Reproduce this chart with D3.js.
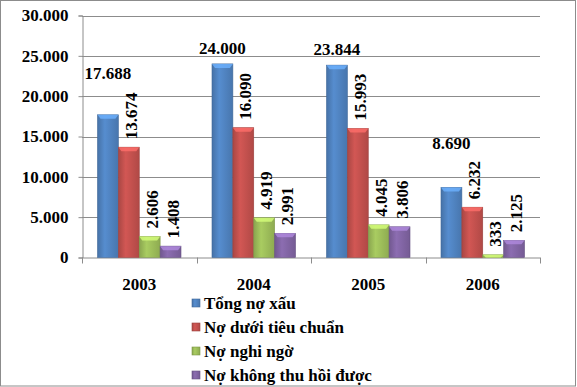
<!DOCTYPE html>
<html>
<head>
<meta charset="utf-8">
<script src="https://cdn.jsdelivr.net/npm/d3@7"></script>
<style>
  body { margin: 0; background: #fff; }
  svg { display: block; }
  text { font-family: "Liberation Serif", "Times New Roman", serif; font-weight: bold; fill: #000; }
</style>
</head>
<body>
<div id="chart"></div>
<script>
// Data
const years = ["2003", "2004", "2005", "2006"];
const seriesNames = ["Tổng nợ xấu", "Nợ dưới tiêu chuẩn", "Nợ nghi ngờ", "Nợ không thu hồi được"];
const tongNoXau = [17688, 24000, 23844, 8690];
const noDuoiTieuChuan = [13674, 16090, 15993, 6232];
const noNghiNgo = [2606, 4919, 4045, 333];
const noKhongThuHoi = [1408, 2991, 3806, 2125];
const yTicks = [0, 5000, 10000, 15000, 20000, 25000, 30000];

const seriesValues = [tongNoXau, noDuoiTieuChuan, noNghiNgo, noKhongThuHoi];
const colors = ["#4F81BD", "#C0504D", "#9BBB59", "#8064A2"];
// gap above the blue bars for the horizontal labels (placed by hand in the original)
const blueLabelGap = [42, 16, 16, 44];

const W = 577, H = 387;
const plot = {left: 82, right: 540, top: 15.5, bottom: 257.5};

const svg = d3.select("#chart").append("svg")
    .attr("width", W)
    .attr("height", H);

// outer frame
svg.append("rect")
    .attr("x", 0.5).attr("y", 0.5)
    .attr("width", W - 2).attr("height", H - 1.5)
    .attr("fill", "#fff")
    .attr("stroke", "#8c8c8c");

// gradients for the bevelled bars
const defs = svg.append("defs");
colors.forEach((c, i) => {
    const g = defs.append("linearGradient")
        .attr("id", "grad" + i)
        .attr("x1", "0").attr("x2", "1").attr("y1", "0").attr("y2", "0");
    g.append("stop").attr("offset", "0%").attr("stop-color", d3.color(c).darker(0.35));
    g.append("stop").attr("offset", "35%").attr("stop-color", d3.color(c).brighter(0.25));
    g.append("stop").attr("offset", "100%").attr("stop-color", d3.color(c).darker(0.25));
});

// scales
const x0 = d3.scaleBand()
    .domain(years)
    .range([plot.left, plot.right]);

const x1 = d3.scaleBand()
    .domain(d3.range(seriesNames.length))
    .range([15.5, x0.bandwidth() - 15.5]);

const y = d3.scaleLinear()
    .domain([0, 30000])
    .range([plot.bottom, plot.top]);

const fmt = v => d3.format(",")(v).replace(/,/g, ".");

// gridlines
svg.append("g")
    .selectAll("line")
    .data(yTicks.slice(1))
    .join("line")
    .attr("x1", plot.left).attr("x2", plot.right)
    .attr("y1", d => Math.round(y(d)) + 0.5).attr("y2", d => Math.round(y(d)) + 0.5)
    .attr("stroke", "#8c8c8c");

// y axis
const yAxis = svg.append("g")
    .attr("transform", `translate(${plot.left + 0.5},0)`)
    .call(d3.axisLeft(y).tickValues(yTicks).tickSize(4).tickPadding(10).tickFormat(fmt));
yAxis.select(".domain").attr("stroke", "#8c8c8c");
yAxis.selectAll(".tick line").attr("stroke", "#8c8c8c");
yAxis.selectAll(".tick text")
    .style("font-family", '"Liberation Serif", serif')
    .style("font-weight", "bold")
    .style("font-size", "17px")
    .attr("fill", "#000");

// x axis baseline + ticks between categories
const xg = svg.append("g");
xg.append("line")
    .attr("x1", plot.left).attr("x2", plot.right)
    .attr("y1", plot.bottom + 0.5).attr("y2", plot.bottom + 0.5)
    .attr("stroke", "#8c8c8c");
xg.selectAll(".sep")
    .data(years.concat(["end"]))
    .join("line")
    .attr("x1", (d, i) => Math.round(plot.left + i * x0.bandwidth()) + 0.5)
    .attr("x2", (d, i) => Math.round(plot.left + i * x0.bandwidth()) + 0.5)
    .attr("y1", plot.bottom)
    .attr("y2", plot.bottom + 6)
    .attr("stroke", "#8c8c8c");
xg.selectAll(".yl")
    .data(years)
    .join("text")
    .attr("x", d => x0(d) + x0.bandwidth() / 2)
    .attr("y", 290)
    .attr("text-anchor", "middle")
    .style("font-size", "17px")
    .text(d => d);

// bars
const groups = svg.append("g")
    .selectAll("g")
    .data(years)
    .join("g")
    .attr("transform", d => `translate(${x0(d)},0)`);

groups.selectAll("rect")
    .data((d, yi) => seriesValues.map((s, si) => ({si, yi, v: s[yi]})))
    .join("rect")
    .attr("x", d => x1(d.si))
    .attr("y", d => y(d.v))
    .attr("width", x1.bandwidth())
    .attr("height", d => y(0) - y(d.v))
    .attr("fill", d => `url(#grad${d.si})`)
    .attr("stroke", d => d3.color(colors[d.si]).darker(0.6))
    .attr("stroke-width", 0.6);

// light top bevel
groups.selectAll("path.bevel")
    .data((d, yi) => seriesValues.map((s, si) => ({si, yi, v: s[yi]})))
    .join("path")
    .attr("class", "bevel")
    .attr("d", d => {
        const bx = x1(d.si), by = y(d.v), bw = x1.bandwidth();
        const h = Math.min(4, y(0) - y(d.v));
        return `M${bx},${by}L${bx + bw},${by}L${bx + bw - 3},${by + h}L${bx + 3},${by + h}Z`;
    })
    .attr("fill", d => d3.color(colors[d.si]).brighter(0.9))
    .attr("opacity", 0.8);

// value labels
groups.selectAll("text.val")
    .data((d, yi) => seriesValues.map((s, si) => ({si, yi, v: s[yi]})))
    .join("text")
    .attr("class", "val")
    .style("font-size", "17px")
    .each(function(d) {
        const t = d3.select(this);
        const cx = x1(d.si) + x1.bandwidth() / 2;
        if (d.si === 0) {
            t.attr("x", cx)
                .attr("y", y(d.v) - blueLabelGap[d.yi])
                .attr("dy", "0.35em")
                .attr("text-anchor", "middle");
        } else {
            t.attr("transform", `translate(${cx + 2},${y(d.v) - 8}) rotate(-90)`)
                .attr("dy", "0.35em")
                .attr("text-anchor", "start");
        }
        t.text(fmt(d.v));
    });

// legend
const legend = svg.append("g")
    .attr("transform", "translate(192,303)");
const item = legend.selectAll("g")
    .data(seriesNames)
    .join("g")
    .attr("transform", (d, i) => `translate(0,${i * 24})`);
item.append("rect")
    .attr("x", 0).attr("y", -4)
    .attr("width", 8).attr("height", 8)
    .attr("fill", (d, i) => `url(#grad${i})`)
    .attr("stroke", (d, i) => d3.color(colors[i]).darker(0.6))
    .attr("stroke-width", 0.6);
item.append("text")
    .attr("x", 12)
    .attr("dy", "0.35em")
    .style("font-size", "17px")
    .text(d => d);
</script>
</body>
</html>
